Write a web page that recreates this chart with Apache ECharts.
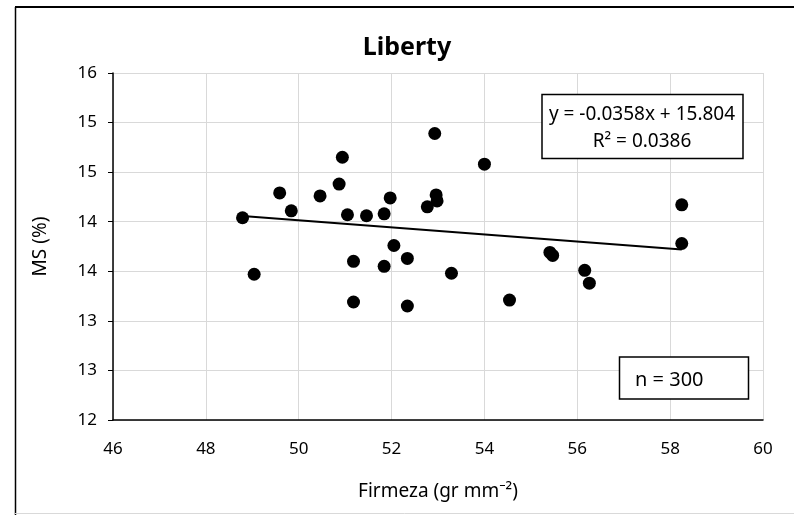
<!DOCTYPE html>
<html>
<head>
<meta charset="utf-8">
<script src="https://cdn.jsdelivr.net/npm/echarts@6/dist/echarts.min.js"></script>
<style>
  html, body { margin: 0; padding: 0; background: #fff; }
  #chart { width: 794px; height: 515px; }
</style>
</head>
<body>
<div id="chart"></div>
<script>
// Firmeza (gr mm-2) vs MS (%) for the Liberty samples
const firmeza = [48.79, 49.04, 49.59, 49.84, 50.46, 50.87, 50.94, 51.05, 51.18, 51.18,
                 51.46, 51.84, 51.97, 52.05, 51.84, 52.34, 52.34, 52.77, 52.96, 52.98,
                 52.93, 54.00, 53.29, 54.54, 55.41, 55.47, 56.16, 56.26, 58.25, 58.25];
const ms      = [14.04, 13.47, 14.29, 14.11, 14.26, 14.38, 14.65, 14.07, 13.60, 13.19,
                 14.06, 14.08, 14.24, 13.76, 13.55, 13.63, 13.15, 14.15, 14.27, 14.21,
                 14.89, 14.58, 13.48, 13.21, 13.69, 13.66, 13.51, 13.38, 14.17, 13.78];

// linear trend: y = slope * x + intercept
const slope = -0.0358;
const intercept = 15.804;
const r2 = 0.0386;
const nSamples = 300;

const xTicks = [46, 48, 50, 52, 54, 56, 58, 60];
const yTicks = [12, 12.5, 13, 13.5, 14, 14.5, 15, 15.5];

const points = firmeza.map((x, i) => [x, ms[i]]);
const xMin = Math.min(...firmeza), xMax = Math.max(...firmeza);
const trend = [[xMin, slope * xMin + intercept], [xMax, slope * xMax + intercept]];

const FONT = '"Noto Sans", "Open Sans", sans-serif';
const chart = echarts.init(document.getElementById('chart'), null, { renderer: 'canvas' });

chart.setOption({
  backgroundColor: '#ffffff',
  animation: false,
  grid: { left: 113, top: 73, right: 31, bottom: 95, containLabel: false },
  xAxis: {
    type: 'value',
    min: xTicks[0], max: xTicks[xTicks.length - 1], interval: 2,
    name: 'Firmeza (gr mm⁻²)',
    nameLocation: 'middle', nameGap: 62,
    nameTextStyle: { fontFamily: FONT, fontSize: 19, color: '#000' },
    axisLine: { show: true, onZero: false, lineStyle: { color: '#000', width: 1.5 } },
    axisTick: { show: false },
    axisLabel: { fontFamily: FONT, fontSize: 17, color: '#000', margin: 21 },
    splitLine: { show: true, lineStyle: { color: '#d9d9d9', width: 1 } }
  },
  yAxis: {
    type: 'value',
    min: yTicks[0], max: yTicks[yTicks.length - 1], interval: 0.5,
    name: 'MS (%)',
    nameLocation: 'middle', nameGap: 63, nameRotate: 90,
    nameTextStyle: { fontFamily: FONT, fontSize: 19, color: '#000' },
    axisLine: { show: true, onZero: false, lineStyle: { color: '#000', width: 1.5 } },
    axisTick: { show: true, inside: false, length: 5, lineStyle: { color: '#000', width: 1 } },
    axisLabel: {
      fontFamily: FONT, fontSize: 17, color: '#000', margin: 16,
      formatter: v => String(Math.round(v))
    },
    splitLine: { show: true, lineStyle: { color: '#d9d9d9', width: 1 } }
  },
  series: [
    {
      type: 'line',
      data: trend,
      symbol: 'none',
      lineStyle: { color: '#000', width: 2 },
      z: 2
    },
    {
      type: 'scatter',
      data: points,
      symbol: 'circle',
      symbolSize: 13,
      itemStyle: { color: '#000', opacity: 1 },
      z: 3
    }
  ],
  graphic: [
    // chart frame edges
    { type: 'line', shape: { x1: 15, y1: 7, x2: 794, y2: 7 }, style: { stroke: '#000', lineWidth: 2 } },
    { type: 'line', shape: { x1: 15.5, y1: 7, x2: 15.5, y2: 515 }, style: { stroke: '#000', lineWidth: 1.5 } },
    { type: 'line', shape: { x1: 15, y1: 513.5, x2: 794, y2: 513.5 }, style: { stroke: '#d9d9d9', lineWidth: 1 } },
    // title
    {
      type: 'text', x: 407, y: 48, z: 10,
      style: { text: 'Liberty', font: 'bold 25px ' + FONT, fill: '#000', align: 'center', verticalAlign: 'middle' }
    },
    // regression equation box
    {
      type: 'rect', z: 10,
      shape: { x: 542, y: 94.5, width: 201, height: 64 },
      style: { fill: '#fff', stroke: '#000', lineWidth: 1.5 }
    },
    {
      type: 'text', x: 642, y: 115, z: 11,
      style: { text: 'y = ' + slope.toFixed(4) + 'x + ' + intercept.toFixed(3), font: '19px ' + FONT, fill: '#000', align: 'center', verticalAlign: 'middle' }
    },
    {
      type: 'text', x: 642, y: 142, z: 11,
      style: { text: 'R² = ' + r2.toFixed(4), font: '19px ' + FONT, fill: '#000', align: 'center', verticalAlign: 'middle' }
    },
    // sample count box
    {
      type: 'rect', z: 10,
      shape: { x: 619.5, y: 357, width: 129, height: 42 },
      style: { fill: '#fff', stroke: '#000', lineWidth: 1.5 }
    },
    {
      type: 'text', x: 635, y: 380, z: 11,
      style: { text: 'n = ' + nSamples, font: '20px ' + FONT, fill: '#000', align: 'left', verticalAlign: 'middle' }
    }
  ]
});
</script>
</body>
</html>
